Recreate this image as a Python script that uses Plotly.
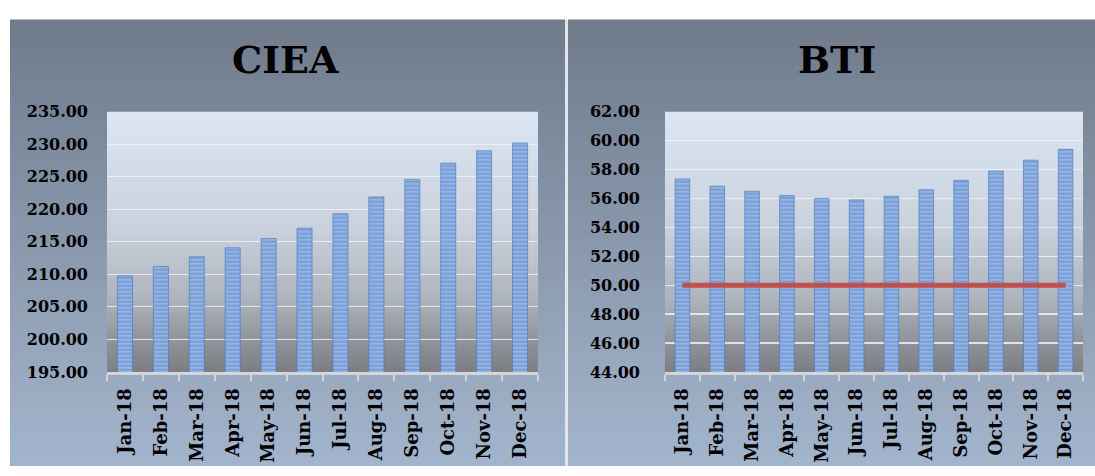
import plotly.graph_objects as go

# ---------------- data ----------------
months = ["Jan-18", "Feb-18", "Mar-18", "Apr-18", "May-18", "Jun-18",
          "Jul-18", "Aug-18", "Sep-18", "Oct-18", "Nov-18", "Dec-18"]
ciea = [209.8, 211.2, 212.7, 214.1, 215.5, 217.1, 219.3, 221.9, 224.6, 227.1, 229.0, 230.2]
bti = [57.35, 56.85, 56.5, 56.2, 56.0, 55.9, 56.15, 56.6, 57.25, 57.9, 58.65, 59.4]
bti_threshold = [50.0] * 12
ciea_ticks = [195, 200, 205, 210, 215, 220, 225, 230, 235]
bti_ticks = [44, 46, 48, 50, 52, 54, 56, 58, 60, 62]
titles = ["CIEA", "BTI"]

# ---------------- style ----------------
W, H = 1095, 476
FONT = "DejaVu Serif"


def px(x):
    return x / W


def py(y):
    return 1 - y / H


L_DOM = [px(107), px(538)]
R_DOM = [px(665), px(1083)]
Y_DOM = [py(378), py(107)]

panel_stops = [(0.0, (0x6f, 0x7b, 0x8b)), (1.0, (0xa3, 0xb5, 0xcd))]
plot_stops = [(0.0, (0xdc, 0xe7, 0xf3)), (0.45, (0xc8, 0xd1, 0xdc)),
              (0.72, (0xae, 0xb4, 0xbc)), (0.86, (0x93, 0x97, 0x9d)),
              (1.0, (0x7c, 0x7e, 0x83))]


def interp(stops, t):
    for (t0, c0), (t1, c1) in zip(stops[:-1], stops[1:]):
        if t0 <= t <= t1:
            f = 0 if t1 == t0 else (t - t0) / (t1 - t0)
            c = [round(a + (b - a) * f) for a, b in zip(c0, c1)]
            return "rgb(%d,%d,%d)" % tuple(c)
    return "rgb(%d,%d,%d)" % stops[-1][1]


shapes = []


def gradient(x0, x1, y0, y1, stops, xref, yref, n=48):
    for i in range(n):
        ta = i / n
        tb = (i + 1) / n
        ya = y0 + (y1 - y0) * ta
        yb = y0 + (y1 - y0) * tb
        yb2 = yb + (y1 - y0) * 0.004 if i < n - 1 else yb
        shapes.append(dict(type="rect", xref=xref, yref=yref, x0=x0, x1=x1,
                           y0=ya, y1=yb2, fillcolor=interp(stops, (ta + tb) / 2),
                           line=dict(width=0), layer="below"))


top_p = py(11)
gradient(px(10), px(565), top_p, 0, panel_stops, "paper", "paper")
gradient(px(568), 1.0, top_p, 0, panel_stops, "paper", "paper")
shapes.append(dict(type="rect", xref="paper", yref="paper", x0=px(565), x1=px(568),
                   y0=0, y1=top_p, fillcolor="#e2e5ea", line=dict(width=0), layer="below"))
gradient(0, 1, 1, 0, plot_stops, "x domain", "y domain")
gradient(0, 1, 1, 0, plot_stops, "x2 domain", "y2 domain")

bar_marker = dict(color="#aac4ea",
                  line=dict(width=0.6, color="#4473bb"),
                  pattern=dict(shape="-", fgcolor="#4677c1", bgcolor="#aac4ea",
                               size=4, solidity=0.72, fillmode="overlay"))

fig = go.Figure()
fig.add_trace(go.Bar(x=months, y=ciea, marker=bar_marker, xaxis="x", yaxis="y",
                     showlegend=False, name="CIEA"))
fig.add_trace(go.Bar(x=months, y=bti, marker=bar_marker, xaxis="x2", yaxis="y2",
                     showlegend=False, name="BTI"))
fig.add_trace(go.Scatter(x=months, y=bti_threshold, mode="lines", xaxis="x2", yaxis="y2",
                         line=dict(color="#c0504d", width=5), showlegend=False))

xcommon = dict(type="category", showgrid=False, showline=True, linecolor="#d3d6db",
               linewidth=3, ticks="outside", tickson="boundaries", ticklen=6,
               tickwidth=2, tickcolor="#d3d6db", tickangle=-90,
               tickfont=dict(family=FONT, size=18, color="black", weight="bold"),
               ticklabelstandoff=6, fixedrange=True)
ycommon = dict(showgrid=True, gridcolor="rgba(238,242,247,0.85)", gridwidth=1.2,
               zeroline=False, showline=False, ticks="",
               tickfont=dict(family=FONT, size=16, color="black", weight="bold"),
               tickformat=".2f", fixedrange=True)

fig.update_layout(
    width=W, height=H,
    margin=dict(l=0, r=0, t=0, b=0),
    paper_bgcolor="white",
    plot_bgcolor="rgba(0,0,0,0)",
    bargap=0.58,
    shapes=shapes,
    xaxis=dict(domain=L_DOM, anchor="y", **xcommon),
    yaxis=dict(domain=Y_DOM, anchor="x", range=[195, 235], tickvals=ciea_ticks,
               ticklabelstandoff=18, **ycommon),
    xaxis2=dict(domain=R_DOM, anchor="y2", **xcommon),
    yaxis2=dict(domain=Y_DOM, anchor="x2", range=[44, 62], tickvals=bti_ticks,
                ticklabelstandoff=24, **ycommon),
    annotations=[
        dict(text=titles[0], xref="paper", yref="paper", x=px(285), y=py(53),
             showarrow=False, xanchor="center", yanchor="middle",
             font=dict(family=FONT, size=38, color="black", weight="bold")),
        dict(text=titles[1], xref="paper", yref="paper", x=px(837), y=py(53),
             showarrow=False, xanchor="center", yanchor="middle",
             font=dict(family=FONT, size=38, color="black", weight="bold")),
    ],
)

fig.write_html(
    "out.html",
    config={"displayModeBar": False, "staticPlot": True},
    post_script="document.documentElement.style.overflow='hidden';"
                "document.body.style.margin='0';document.body.style.padding='0';",
)
